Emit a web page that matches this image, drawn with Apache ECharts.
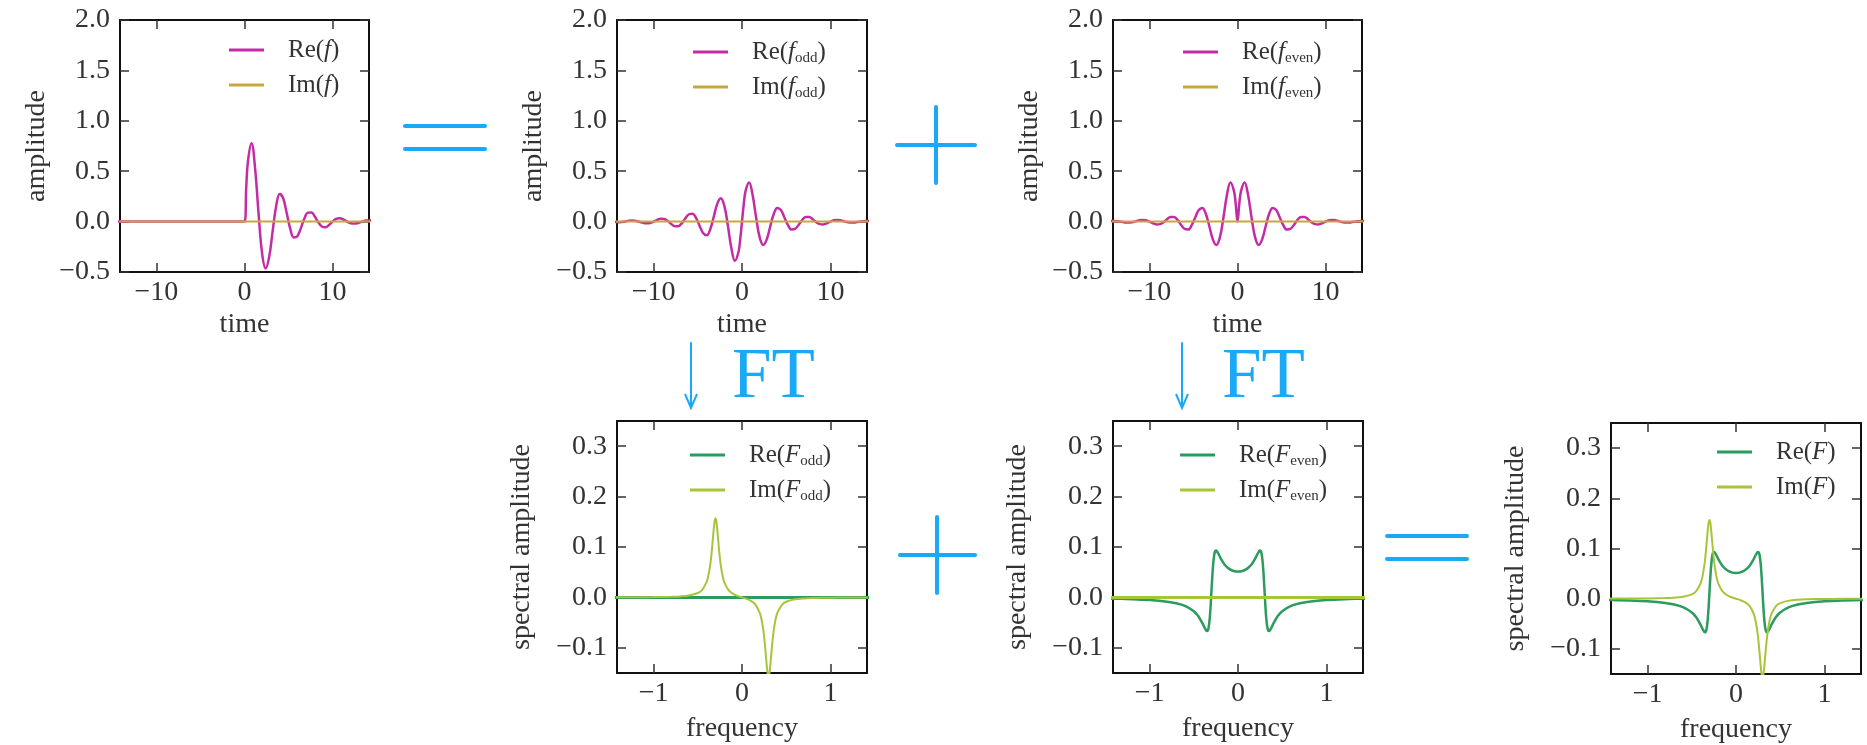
<!DOCTYPE html>
<html>
<head>
<meta charset="utf-8">
<script src="https://cdn.jsdelivr.net/npm/echarts@6/dist/echarts.min.js"></script>
<style>
  html, body { margin: 0; padding: 0; background: #fff; }
  #main { width: 1867px; height: 745px; }
</style>
</head>
<body>
<div id="main"></div>
<script>
// time samples
const tCausal = [-14.4, -0.4, 0, 0.2, 0.4, 0.8, 1.2, 1.6, 2.0, 2.4, 2.8, 3.2, 3.6, 4.0, 4.4, 4.8, 5.2, 5.6, 6.0, 6.4, 6.8, 7.2, 7.6, 8.0, 8.4, 8.8, 9.2, 9.6, 10.0, 10.4, 10.8, 11.2, 11.6, 12.0, 12.4, 12.8, 13.2, 13.6, 14.0, 14.4]
const reF = [0, 0, 0, 0.346, 0.604, 0.777, 0.530, 0.076, -0.315, -0.464, -0.352, -0.092, 0.156, 0.273, 0.229, 0.082, -0.073, -0.157, -0.146, -0.065, 0.030, 0.089, 0.091, 0.048, -0.009, -0.049, -0.056, -0.034, 0.000, 0.027, 0.034, 0.023, 0.003, -0.014, -0.020, -0.016, -0.004, 0.007, 0.012, 0.010]

const tSym = [-14.4, -14.0, -13.6, -13.2, -12.8, -12.4, -12.0, -11.6, -11.2, -10.8, -10.4, -10.0, -9.6, -9.2, -8.8, -8.4, -8.0, -7.6, -7.2, -6.8, -6.4, -6.0, -5.6, -5.2, -4.8, -4.4, -4.0, -3.6, -3.2, -2.8, -2.4, -2.0, -1.6, -1.2, -0.8, -0.4, -0.2, 0, 0.2, 0.4, 0.8, 1.2, 1.6, 2.0, 2.4, 2.8, 3.2, 3.6, 4.0, 4.4, 4.8, 5.2, 5.6, 6.0, 6.4, 6.8, 7.2, 7.6, 8.0, 8.4, 8.8, 9.2, 9.6, 10.0, 10.4, 10.8, 11.2, 11.6, 12.0, 12.4, 12.8, 13.2, 13.6, 14.0, 14.4]
const reOdd = [-0.005, -0.006, -0.003, 0.002, 0.008, 0.010, 0.007, -0.002, -0.012, -0.017, -0.013, 0.000, 0.017, 0.028, 0.025, 0.005, -0.024, -0.046, -0.045, -0.015, 0.033, 0.073, 0.079, 0.036, -0.041, -0.114, -0.136, -0.078, 0.046, 0.176, 0.232, 0.157, -0.038, -0.265, -0.389, -0.302, -0.173, 0, 0.173, 0.302, 0.389, 0.265, 0.038, -0.157, -0.232, -0.176, -0.046, 0.078, 0.136, 0.114, 0.041, -0.036, -0.079, -0.073, -0.033, 0.015, 0.045, 0.046, 0.024, -0.005, -0.025, -0.028, -0.017, 0.000, 0.013, 0.017, 0.012, 0.002, -0.007, -0.010, -0.008, -0.002, 0.003, 0.006, 0.005]
const reEven = [0.005, 0.006, 0.003, -0.002, -0.008, -0.010, -0.007, 0.002, 0.012, 0.017, 0.013, 0.000, -0.017, -0.028, -0.025, -0.005, 0.024, 0.046, 0.045, 0.015, -0.033, -0.073, -0.079, -0.036, 0.041, 0.114, 0.136, 0.078, -0.046, -0.176, -0.232, -0.157, 0.038, 0.265, 0.389, 0.302, 0.173, 0, 0.173, 0.302, 0.389, 0.265, 0.038, -0.157, -0.232, -0.176, -0.046, 0.078, 0.136, 0.114, 0.041, -0.036, -0.079, -0.073, -0.033, 0.015, 0.045, 0.046, 0.024, -0.005, -0.025, -0.028, -0.017, 0.000, 0.013, 0.017, 0.012, 0.002, -0.007, -0.010, -0.008, -0.002, 0.003, 0.006, 0.005]

// imaginary parts in time are flat zero
const tSpan = [-14.4, 14.4]
const imTime = [0, 0]

// frequency samples (bottom row)
const nu = [-1.5, -1.2, -1.0, -0.8, -0.7, -0.6, -0.5, -0.45, -0.4, -0.38, -0.36, -0.35, -0.34, -0.33, -0.32, -0.31, -0.3, -0.29, -0.28, -0.27, -0.26, -0.25, -0.24, -0.22, -0.2, -0.15, -0.1, -0.05, 0, 0.05, 0.1, 0.15, 0.2, 0.22, 0.24, 0.25, 0.26, 0.27, 0.28, 0.29, 0.3, 0.31, 0.32, 0.33, 0.34, 0.35, 0.36, 0.38, 0.4, 0.45, 0.5, 0.6, 0.7, 0.8, 1.0, 1.2, 1.5]
const reSpec = [-0.0022, -0.0035, -0.0052, -0.0085, -0.0116, -0.0169, -0.0273, -0.0369, -0.0520, -0.0595, -0.0658, -0.0669, -0.0648, -0.0573, -0.0418, -0.0175, 0.0131, 0.0437, 0.0680, 0.0835, 0.0911, 0.0932, 0.0922, 0.0861, 0.0788, 0.0647, 0.0566, 0.0525, 0.0512, 0.0525, 0.0566, 0.0647, 0.0788, 0.0861, 0.0922, 0.0932, 0.0911, 0.0835, 0.0680, 0.0437, 0.0131, -0.0175, -0.0418, -0.0573, -0.0648, -0.0669, -0.0658, -0.0595, -0.0520, -0.0369, -0.0273, -0.0169, -0.0116, -0.0085, -0.0052, -0.0035, -0.0022]
const imSpec = [0.0002, 0.0003, 0.0006, 0.0012, 0.0020, 0.0038, 0.0087, 0.0151, 0.0308, 0.0435, 0.0638, 0.0781, 0.0954, 0.1152, 0.1352, 0.1509, 0.1569, 0.1508, 0.1350, 0.1150, 0.0951, 0.0777, 0.0634, 0.0429, 0.0300, 0.0139, 0.0069, 0.0029, 0, -0.0029, -0.0069, -0.0139, -0.0300, -0.0429, -0.0634, -0.0777, -0.0951, -0.1150, -0.1350, -0.1508, -0.1569, -0.1509, -0.1352, -0.1152, -0.0954, -0.0781, -0.0638, -0.0435, -0.0308, -0.0151, -0.0087, -0.0038, -0.0020, -0.0012, -0.0006, -0.0003, -0.0002]
const nuSpan = [-1.5, 1.5]
const flatSpec = [0, 0]

// tick labels
const timeTicks = [-10, 0, 10]
const ampTicks = [-0.5, 0.0, 0.5, 1.0, 1.5, 2.0]
const freqTicks = [-1, 0, 1]
const specTicks = [-0.1, 0.0, 0.1, 0.2, 0.3]

const serif = "'Liberation Serif', 'DejaVu Serif', serif"
const textCol = '#333'
const blue = '#19a9f6'
const magenta = '#c42ca6'
const gold = '#c8a83c'
const green = '#2b9b5e'
const lime = '#a6c53a'

const pairs = (xs, ys) => xs.map((x, i) => [x, ys[i]])
const minus = s => s.replace('-', '\u2212')

// panel frames
const panels = [
  { left: 120, top: 20, width: 249, height: 252, kind: 'time' },
  { left: 617, top: 20, width: 250, height: 252, kind: 'time' },
  { left: 1113, top: 20, width: 249, height: 252, kind: 'time' },
  { left: 617, top: 421, width: 250, height: 252, kind: 'freq' },
  { left: 1113, top: 421, width: 250, height: 252, kind: 'freq' },
  { left: 1611, top: 423, width: 250, height: 252, kind: 'freq' }
]
const legendPos = [[229, 36], [693, 38], [1183, 38], [690, 441], [1180, 441], [1717, 438]]

const frameLine = { show: true, onZero: false, lineStyle: { color: '#111', width: 2 } }
const tickStyle = (vals) => ({ show: true, inside: true, length: 9, customValues: vals, lineStyle: { color: '#333', width: 1.5 } })
const nameStyle = { fontFamily: serif, fontSize: 28, color: textCol }

const xAxes = []
const yAxes = []
panels.forEach((p, g) => {
  const isTime = p.kind === 'time'
  const xr = isTime ? [-14.14, 14.14] : [-1.414, 1.414]
  const yr = isTime ? [-0.5, 2.0] : [-0.15, 0.35]
  const xt = isTime ? timeTicks : freqTicks
  const yt = isTime ? ampTicks : specTicks
  ;['bottom', 'top'].forEach(pos => {
    xAxes.push({
      gridIndex: g, type: 'value', position: pos, min: xr[0], max: xr[1],
      axisLine: frameLine, axisTick: tickStyle(xt), splitLine: { show: false },
      axisLabel: {
        show: pos === 'bottom', customValues: xt, margin: 7,
        fontFamily: serif, fontSize: 28, color: textCol,
        formatter: v => minus(String(v))
      },
      name: pos === 'bottom' ? (isTime ? 'time' : 'frequency') : '',
      nameLocation: 'middle', nameGap: isTime ? 39 : 42, nameTextStyle: nameStyle
    })
  })
  ;['left', 'right'].forEach(pos => {
    yAxes.push({
      gridIndex: g, type: 'value', position: pos, min: yr[0], max: yr[1],
      axisLine: frameLine, axisTick: tickStyle(yt), splitLine: { show: false },
      axisLabel: {
        show: pos === 'left', customValues: yt, margin: 10,
        fontFamily: serif, fontSize: 28, color: textCol,
        formatter: v => minus(v.toFixed(1))
      },
      name: pos === 'left' ? (isTime ? 'amplitude' : 'spectral amplitude') : '',
      nameLocation: 'middle', nameGap: isTime ? 69 : 81, nameTextStyle: nameStyle
    })
  })
})

// one entry per curve: panel, name, x, y, colour, width, smoothing
const curves = [
  [0, 'Re(f)', tCausal, reF, magenta, 2.5, 0.4],
  [0, 'Im(f)', tSpan, imTime, gold, 2, 0],
  [1, 'Re(f_odd)', tSym, reOdd, magenta, 2.5, 0.4],
  [1, 'Im(f_odd)', tSpan, imTime, gold, 2, 0],
  [2, 'Re(f_even)', tSym, reEven, magenta, 2.5, 0.4],
  [2, 'Im(f_even)', tSpan, imTime, gold, 2, 0],
  [3, 'Re(F_odd)', nuSpan, flatSpec, green, 3, 0],
  [3, 'Im(F_odd)', nu, imSpec, lime, 2, 0.3],
  [4, 'Re(F_even)', nu, reSpec, green, 2.5, 0.3],
  [4, 'Im(F_even)', nuSpan, flatSpec, lime, 3, 0],
  [5, 'Re(F)', nu, reSpec, green, 2.5, 0.3],
  [5, 'Im(F)', nu, imSpec, lime, 2, 0.3]
]

const series = curves.map(c => ({
  type: 'line', name: c[1],
  xAxisIndex: c[0] * 2, yAxisIndex: c[0] * 2,
  data: pairs(c[2], c[3]),
  showSymbol: false, symbol: 'none', smooth: c[6] || false,
  lineStyle: { color: c[4], width: c[5] }, itemStyle: { color: c[4] },
  clip: true
}))

const legendLabel = name => name.replace(/\(([fF])(?:_(\w+))?\)/, (m, v, sub) =>
  '({i|' + v + '}' + (sub ? '{s|' + sub + '}' : '') + ')')

const legends = panels.map((p, g) => ({
  data: [curves[2 * g][1], curves[2 * g + 1][1]],
  orient: 'vertical', left: legendPos[g][0], top: legendPos[g][1],
  padding: 0, itemGap: 7, itemWidth: 35, itemHeight: 3, icon: 'rect',
  selectedMode: false, formatter: legendLabel,
  textStyle: {
    fontFamily: serif, fontSize: 25, color: textCol, lineHeight: 28,
    padding: [0, 0, 0, 19],
    rich: {
      i: { fontFamily: serif, fontSize: 25, fontStyle: 'italic', color: textCol, lineHeight: 28 },
      s: { fontFamily: serif, fontSize: 15, color: textCol, lineHeight: 15, verticalAlign: 'bottom' }
    }
  }
}))

const bar = (x1, y1, x2, y2, w) => ({
  type: 'line', shape: { x1, y1, x2, y2 },
  style: { stroke: blue, lineWidth: w || 4, lineCap: 'round' }
})
const arrow = (x) => [
  bar(x, 343, x, 406, 2),
  { type: 'polyline', shape: { points: [[x - 6, 394], [x, 408], [x + 6, 394]] },
    style: { stroke: blue, lineWidth: 2, fill: null } }
]
const ftLabel = (x) => ({
  type: 'text', x: x, y: 378,
  style: { text: 'FT', font: '71px ' + serif, fill: blue, verticalAlign: 'middle' }
})

const graphics = [
  bar(405, 126, 485, 126), bar(405, 149, 485, 149),
  bar(897, 145, 975, 145), bar(936, 107, 936, 183),
  bar(900, 555, 975, 555), bar(937, 517, 937, 593),
  bar(1387, 536, 1467, 536), bar(1387, 559, 1467, 559),
  ...arrow(691), ...arrow(1182),
  ftLabel(732), ftLabel(1222)
]

const chart = echarts.init(document.getElementById('main'))
chart.setOption({
  animation: false,
  backgroundColor: '#fff',
  grid: panels.map(p => ({ left: p.left, top: p.top, width: p.width, height: p.height })),
  xAxis: xAxes,
  yAxis: yAxes,
  legend: legends,
  series: series,
  graphic: { elements: graphics }
})
</script>
</body>
</html>
